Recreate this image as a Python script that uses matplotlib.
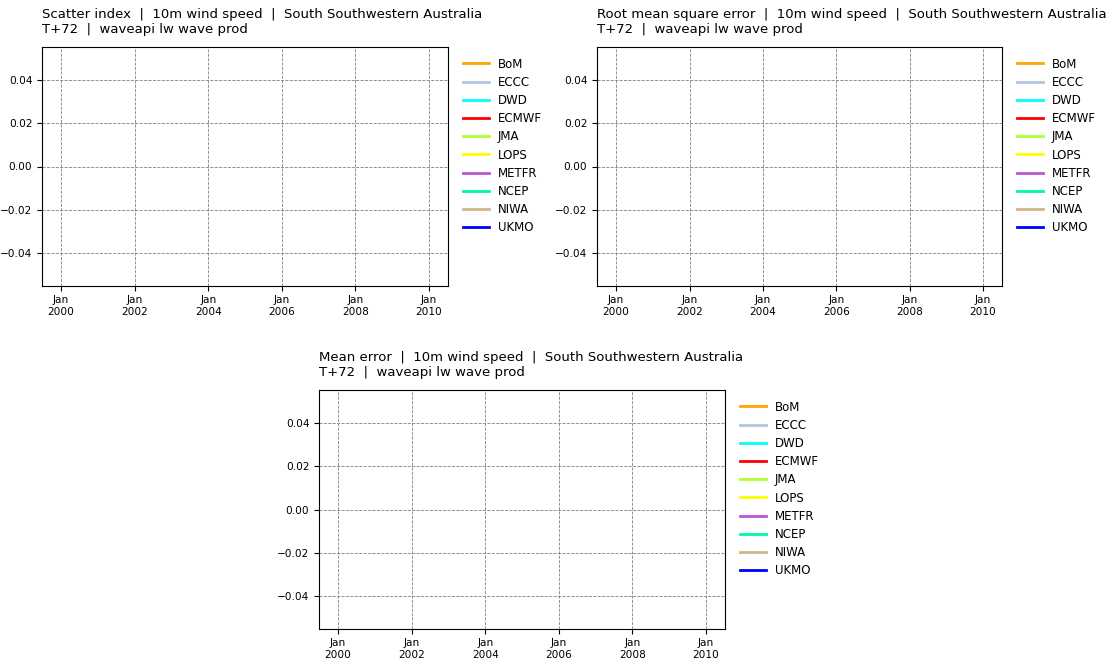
import datetime as dt
import matplotlib
matplotlib.use("Agg")
import matplotlib.pyplot as plt
import matplotlib.dates as mdates

centres = ["BoM", "ECCC", "DWD", "ECMWF", "JMA", "LOPS", "METFR", "NCEP", "NIWA", "UKMO"]
colours = ["orange", "lightsteelblue", "cyan", "red", "greenyellow", "yellow",
           "mediumorchid", "mediumspringgreen", "tan", "blue"]
# no verification data for this region: every series is empty
dates = []
values = {c: [] for c in centres}

metrics = ["Scatter index", "Root mean square error", "Mean error"]
subtitle = "10m wind speed  |  South Southwestern Australia\nT+72  |  waveapi lw wave prod"
xstart = dt.datetime(1999, 6, 25)
xend = dt.datetime(2010, 7, 8)

fig = plt.figure(figsize=(11.11, 6.58), dpi=100)
W, H = 1111, 658
boxes = [(42, 47, 448, 286), (597, 47, 1002, 286), (319, 390, 725, 629)]

for metric, (l, t, r, b) in zip(metrics, boxes):
    ax = fig.add_axes([l / W, 1 - b / H, (r - l) / W, (b - t) / H])
    for c, col in zip(centres, colours):
        ax.plot(dates, values[c], color=col, lw=2, label=c)
    ax.set_xlim(xstart, xend)
    ax.set_ylim(-0.055, 0.055)
    ax.xaxis.set_major_locator(mdates.YearLocator(2))
    ax.xaxis.set_major_formatter(mdates.DateFormatter("%b\n%Y"))
    ax.tick_params(labelsize=7.6)
    ax.tick_params(axis="x", pad=3)
    ax.grid(True, ls="--", color="gray", lw=0.6)
    ax.set_title(metric + "  |  " + subtitle, loc="left", fontsize=9.5, pad=10,
                 linespacing=1.2)
    ax.legend(loc="upper left", bbox_to_anchor=(1.01, 1.0), frameon=False,
              fontsize=8.5, handlelength=2.2, labelspacing=0.44)

plt.savefig("out.png", dpi=100)
